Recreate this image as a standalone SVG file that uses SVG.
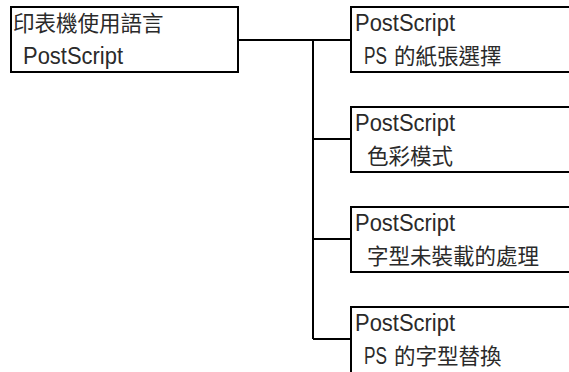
<svg xmlns="http://www.w3.org/2000/svg" width="569" height="372" viewBox="0 0 569 372">
<style>
.box{fill:#fff;stroke:#000;stroke-width:2}
.t{font-family:"Liberation Sans","Noto Sans CJK TC",sans-serif;font-size:23px;fill:#2a2a2a}
.j{font-family:"Noto Sans CJK TC","Liberation Sans",sans-serif;font-size:21.5px;fill:#2a2a2a}
.c{fill:none;stroke:#000;stroke-width:2}
</style>
<rect width="569" height="372" fill="#fff"/>
<g id="connectors">
<path class="c" d="M238,40 H351 M313,40 V339 M313,139 H351 M313,239 H351 M313,339 H351"/>
</g>
<g id="n0">
<rect class="box" x="11" y="7" width="227" height="65"/>
<text class="j" x="13" y="31">印表機使用語言</text>
<text class="t" x="23" y="64" textLength="100" lengthAdjust="spacingAndGlyphs">PostScript</text>
</g>
<g id="n1">
<rect class="box" x="351" y="7" width="240" height="65"/>
<text class="t" x="355" y="31" textLength="100" lengthAdjust="spacingAndGlyphs">PostScript</text>
<text class="j" y="64"><tspan class="t" x="364" textLength="23" lengthAdjust="spacingAndGlyphs">PS</tspan> <tspan x="394">的紙張選擇</tspan></text>
</g>
<g id="n2">
<rect class="box" x="351" y="107" width="240" height="65"/>
<text class="t" x="355" y="131" textLength="100" lengthAdjust="spacingAndGlyphs">PostScript</text>
<text class="j" x="367" y="164">色彩模式</text>
</g>
<g id="n3">
<rect class="box" x="351" y="207" width="240" height="65"/>
<text class="t" x="355" y="231" textLength="100" lengthAdjust="spacingAndGlyphs">PostScript</text>
<text class="j" x="367" y="264">字型未裝載的處理</text>
</g>
<g id="n4">
<rect class="box" x="351" y="307" width="240" height="80"/>
<text class="t" x="355" y="331" textLength="100" lengthAdjust="spacingAndGlyphs">PostScript</text>
<text class="j" y="364"><tspan class="t" x="364" textLength="23" lengthAdjust="spacingAndGlyphs">PS</tspan> <tspan x="394">的字型替換</tspan></text>
</g>
</svg>
